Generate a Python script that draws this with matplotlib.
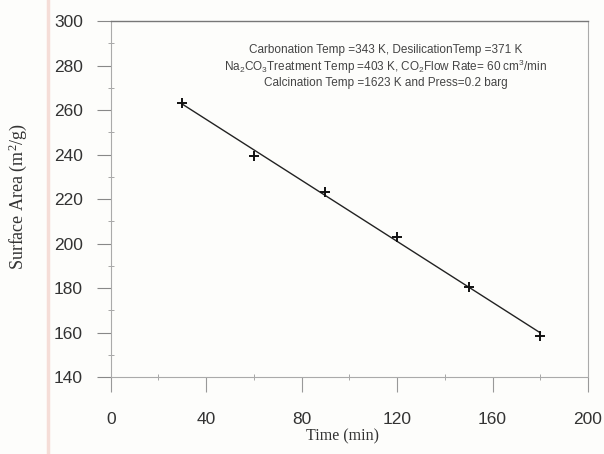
import numpy as np
import matplotlib.pyplot as plt
from matplotlib.ticker import MultipleLocator
from matplotlib.lines import Line2D

# Surface area vs. time data
time_min = [30, 60, 90, 120, 150, 180]
surface_area = [263, 239.5, 223, 203, 180.5, 158.5]

x_ticks = [0, 40, 80, 120, 160, 200]
y_ticks = [140, 160, 180, 200, 220, 240, 260, 280, 300]

conditions = [
    "Carbonation Temp =343 K, DesilicationTemp =371 K",
    r"Na$\mathregular{_2}$CO$\mathregular{_3}$Treatment Temp =403 K, "
    r"CO$\mathregular{_2}$Flow Rate= 60 cm$\mathregular{^3}$/min",
    "Calcination Temp =1623 K and Press=0.2 barg",
]

fig = plt.figure(figsize=(6.04, 4.54), dpi=100)
fig.patch.set_facecolor('#fdfdfb')
ax = fig.add_axes([0.1833, 0.1696, 0.7902, 0.7841])
ax.set_facecolor('#fdfdfb')

# linear trend line through the points
coef = np.polyfit(time_min, surface_area, 1)
xs = np.array([time_min[0], time_min[-1]])
ax.plot(xs, np.polyval(coef, xs), color='#222222', lw=1.0)
ax.plot(time_min, surface_area, linestyle='none', marker='+',
        markersize=6.5, mew=1.4, color='#111111')

ax.set_xlim(0, 200)
ax.set_ylim(140, 300)
ax.set_xticks(x_ticks)
ax.set_yticks(y_ticks)
ax.xaxis.set_minor_locator(MultipleLocator(20))
ax.yaxis.set_minor_locator(MultipleLocator(10))

ax.tick_params(axis='x', which='major', direction='out', length=11,
               width=0.8, color='#999999', pad=14,
               labelsize=12.5, labelcolor='#333333')
ax.tick_params(axis='y', which='major', direction='out', length=10,
               width=0.8, color='#888888', pad=10,
               labelsize=12.5, labelcolor='#333333')
ax.tick_params(which='minor', direction='inout', length=4, width=0.6,
               color='#999999')
for lab in ax.get_xticklabels() + ax.get_yticklabels():
    lab.set_fontfamily('Liberation Sans')

for side in ['left', 'bottom', 'right']:
    ax.spines[side].set_color('#aaaaaa')
    ax.spines[side].set_linewidth(0.8)
    ax.spines[side].set_linestyle((0, (1.5, 1)))
ax.spines['top'].set_color('#777777')
ax.spines['top'].set_linewidth(1.0)

# experimental conditions
for i, line in enumerate(conditions):
    fig.text(386 / 604, 1 - (50 + i * 16.5) / 454, line, ha='center',
             va='center', fontsize=8.5, color='#444444',
             family='Liberation Sans')

fig.text(342 / 604, 1 - 436 / 454, 'Time (min)', ha='center', va='center',
         fontsize=11.5, color='#333333', family='Liberation Serif')
fig.text(18 / 604, 1 - 196 / 454, r'Surface Area (m$\mathregular{^2}$/g)',
         ha='center', va='center', rotation=90, fontsize=13,
         color='#333333', family='Liberation Serif')

# faint crease along the left of the page
fig.add_artist(Line2D([48 / 604, 48 / 604], [0, 1], color='#f0c8c0',
                      lw=2.5, alpha=0.6))

fig.savefig('out.png', dpi=100, facecolor=fig.get_facecolor())
